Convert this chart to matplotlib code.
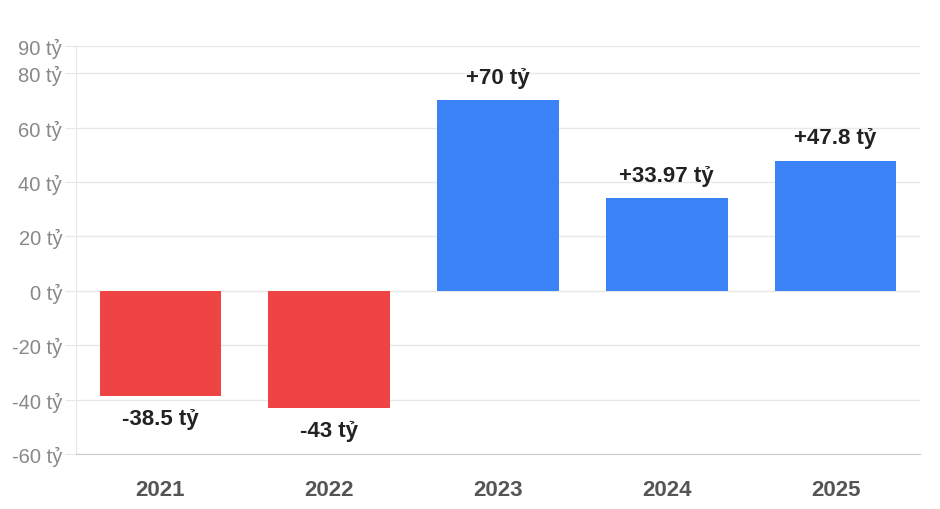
import matplotlib.pyplot as plt

plt.rcParams['font.family'] = ['Liberation Sans', 'DejaVu Sans']

# data
years = ["2021", "2022", "2023", "2024", "2025"]
values = [-38.5, -43, 70, 33.97, 47.8]
labels = ["-38.5 tỷ", "-43 tỷ", "+70 tỷ", "+33.97 tỷ", "+47.8 tỷ"]
yticks = [-60, -40, -20, 0, 20, 40, 60, 80, 90]

colors = ["#ef4444" if v < 0 else "#3b82f6" for v in values]

fig = plt.figure(figsize=(9.4, 5.1), dpi=100)
ax = fig.add_axes([76 / 940, 55 / 510, 844 / 940, 408 / 510])

x = range(len(years))
ax.bar(x, values, width=0.72, color=colors, zorder=3)

for side in ["top", "right"]:
    ax.spines[side].set_visible(False)
ax.spines["left"].set_color("#e8e8e8")
ax.spines["bottom"].set_color("#cccccc")

ax.set_xlim(-0.5, len(years) - 0.5)
ax.set_ylim(-60, 90)
ax.set_yticks(yticks)
ax.set_yticklabels([f"{t} tỷ" for t in yticks], fontsize=14.5, color="#888888")
ax.set_xticks(list(x))
ax.set_xticklabels(years, fontsize=16, fontweight="bold", color="#555555")

ax.grid(axis="y", color="#e8e8e8", linewidth=1, zorder=0)
ax.tick_params(axis="y", length=8, color="#e8e8e8", pad=2)
ax.tick_params(axis="x", length=0, pad=18)

for i, (v, lab) in enumerate(zip(values, labels)):
    if v >= 0:
        ax.annotate(lab, (i, v), xytext=(0, 9), textcoords="offset points",
                    ha="center", va="bottom", fontsize=16, fontweight="bold", color="#222222")
    else:
        ax.annotate(lab, (i, v), xytext=(0, -9), textcoords="offset points",
                    ha="center", va="top", fontsize=16, fontweight="bold", color="#222222")

fig.savefig("out.png", dpi=100)
